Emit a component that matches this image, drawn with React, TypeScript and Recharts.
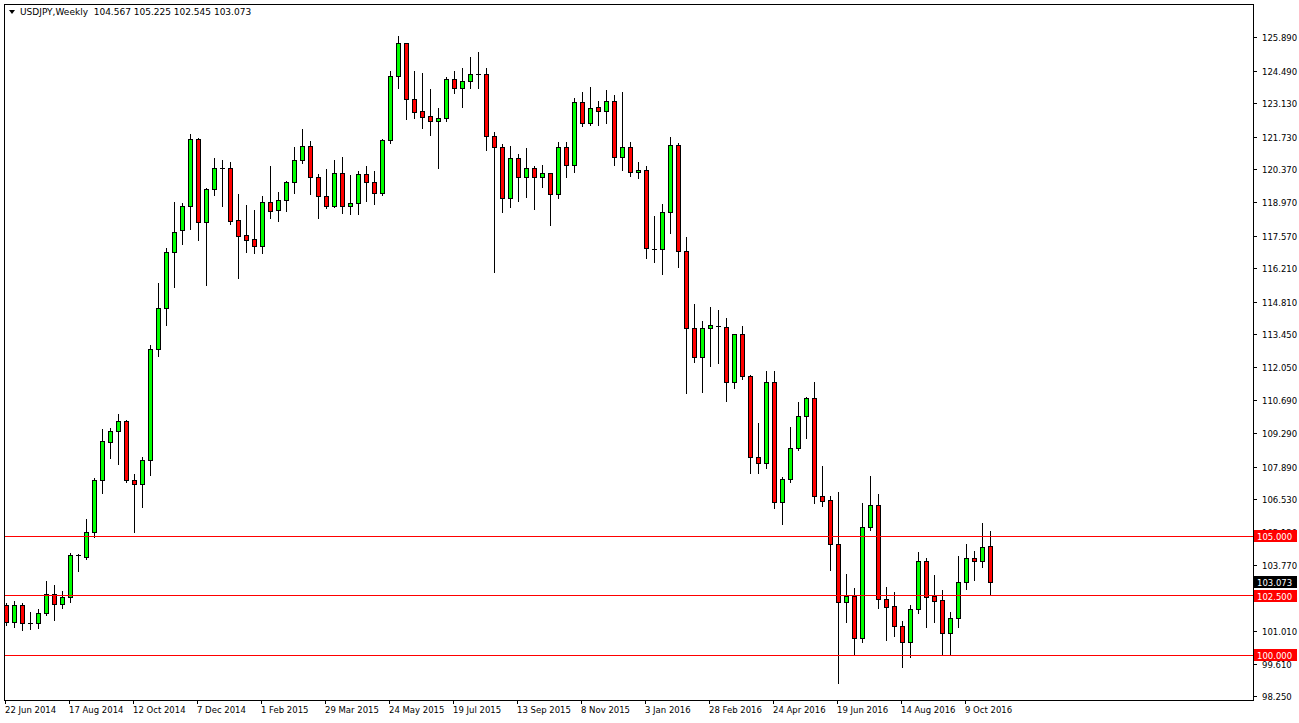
import React from 'react';
import { ComposedChart, Bar, XAxis, YAxis, ReferenceLine } from 'recharts';

// Weekly USDJPY candles, week of 22 Jun 2014 through week of 30 Oct 2016
const opens = [
  102.10, 101.40, 102.09, 101.35, 101.34, 101.76, 102.55, 102.15, 102.43, 104.17,
  104.13, 105.18, 107.35, 108.93, 109.40, 109.82, 107.34, 107.17, 108.19, 112.83,
  114.55, 116.90, 117.82, 118.86, 121.65, 118.18, 119.54, 120.42, 120.42, 118.26,
  117.61, 117.46, 117.18, 119.00, 118.66, 119.08, 119.85, 120.76, 121.36, 120.06,
  119.26, 118.86, 120.21, 118.86, 118.96, 120.17, 119.84, 119.38, 121.61, 124.30,
  125.67, 123.32, 122.82, 122.62, 122.42, 122.52, 124.17, 123.78, 124.09, 124.39,
  124.39, 121.78, 121.31, 119.17, 120.84, 120.05, 120.42, 120.05, 120.21, 119.33,
  121.33, 120.55, 123.22, 122.31, 122.98, 122.84, 123.23, 120.91, 121.31, 120.26,
  120.35, 117.04, 117.03, 118.58, 121.40, 116.97, 113.71, 112.52, 113.71, 113.82,
  113.78, 111.45, 113.46, 111.71, 108.30, 108.05, 111.45, 106.44, 107.38, 108.68,
  110.03, 110.78, 106.68, 106.50, 104.65, 102.22, 102.48, 100.71, 105.39, 106.30,
  102.34, 102.06, 101.24, 100.54, 101.92, 103.95, 102.48, 102.31, 100.92, 101.55,
  103.06, 104.06, 103.95, 104.567,
];
const highs = [
  102.20, 102.27, 102.20, 101.80, 101.92, 103.11, 102.94, 102.70, 104.27, 104.25,
  105.71, 107.43, 109.48, 109.52, 110.10, 109.85, 107.59, 108.33, 113.01, 115.62,
  117.07, 119.00, 118.96, 121.85, 121.70, 119.61, 120.84, 120.77, 120.68, 119.35,
  118.88, 118.67, 119.26, 120.53, 119.44, 119.90, 121.30, 122.06, 121.57, 120.18,
  120.38, 120.77, 120.89, 120.14, 120.32, 120.52, 120.31, 121.65, 124.52, 125.97,
  125.70, 124.51, 124.42, 123.75, 122.94, 124.27, 124.51, 124.64, 125.09, 125.32,
  124.64, 121.93, 121.44, 121.36, 121.02, 121.26, 120.52, 120.56, 120.24, 121.54,
  121.54, 123.36, 123.64, 123.82, 123.26, 123.71, 123.50, 123.64, 121.51, 120.70,
  120.52, 118.42, 118.93, 121.72, 121.47, 117.55, 114.75, 114.02, 114.62, 114.48,
  114.16, 113.47, 113.82, 111.75, 109.75, 111.92, 111.92, 107.49, 109.58, 110.63,
  110.84, 111.47, 107.95, 106.69, 106.83, 103.40, 102.83, 106.37, 107.53, 106.76,
  102.87, 102.64, 101.45, 102.10, 104.34, 104.09, 103.36, 102.73, 101.82, 104.16,
  104.65, 104.37, 105.53, 105.225,
];
const lows = [
  101.27, 101.20, 101.06, 101.09, 101.15, 101.70, 101.50, 101.99, 102.24, 103.54,
  104.05, 104.97, 106.79, 108.26, 108.01, 107.25, 105.18, 106.23, 107.56, 112.56,
  113.85, 115.44, 117.24, 117.87, 117.42, 115.53, 119.30, 118.84, 118.09, 115.83,
  116.93, 116.88, 116.88, 118.34, 118.23, 118.65, 119.40, 120.63, 119.33, 118.33,
  118.75, 118.81, 118.54, 118.49, 118.49, 119.06, 118.91, 119.30, 121.47, 123.78,
  122.48, 122.52, 122.13, 121.82, 120.42, 122.42, 123.60, 123.01, 123.81, 123.81,
  121.19, 116.09, 118.60, 118.81, 119.06, 119.23, 118.70, 119.63, 118.05, 119.17,
  120.05, 120.28, 122.21, 122.24, 122.24, 122.31, 120.56, 120.35, 120.10, 120.03,
  116.67, 116.51, 115.98, 117.70, 116.30, 110.98, 112.30, 111.05, 112.14, 112.24,
  110.66, 111.22, 111.59, 107.65, 107.63, 107.84, 106.19, 105.49, 107.28, 108.61,
  109.12, 106.37, 106.26, 103.57, 98.82, 101.38, 100.04, 100.54, 105.25, 101.97,
  100.64, 100.82, 99.52, 99.94, 101.76, 101.19, 101.38, 100.05, 100.05, 101.19,
  102.80, 103.15, 103.71, 102.545,
];
const closes = [
  101.40, 102.10, 101.34, 101.37, 101.76, 102.55, 102.15, 102.43, 104.19, 104.20,
  105.18, 107.35, 108.98, 109.40, 109.82, 107.34, 107.17, 108.19, 112.83, 114.55,
  116.90, 117.76, 118.86, 121.65, 118.18, 119.56, 120.42, 120.44, 118.23, 117.60,
  117.43, 117.18, 119.00, 118.65, 119.08, 119.85, 120.76, 121.36, 120.05, 119.25,
  118.86, 120.21, 118.86, 118.97, 120.17, 119.84, 119.38, 121.61, 124.30, 125.67,
  123.32, 122.80, 122.59, 122.42, 122.52, 124.17, 123.78, 124.09, 124.37, 124.40,
  121.78, 121.31, 119.17, 120.84, 120.05, 120.42, 120.05, 120.21, 119.33, 121.33,
  120.55, 123.22, 122.31, 122.94, 122.84, 123.23, 120.91, 121.31, 120.26, 120.35,
  117.07, 117.05, 118.58, 121.40, 116.97, 113.71, 112.52, 113.71, 113.85, 113.83,
  111.45, 113.46, 111.71, 108.30, 108.05, 111.45, 106.44, 107.38, 108.68, 110.03,
  110.78, 106.68, 106.48, 104.65, 102.22, 102.48, 100.71, 105.39, 106.30, 102.34,
  102.03, 101.24, 100.54, 101.92, 103.95, 102.45, 102.28, 100.92, 101.55, 103.06,
  104.06, 103.95, 104.56, 103.073,
];

const dateLabels = [
  '22 Jun 2014', '17 Aug 2014', '12 Oct 2014', '7 Dec 2014', '1 Feb 2015',
  '29 Mar 2015', '24 May 2015', '19 Jul 2015', '13 Sep 2015', '8 Nov 2015',
  '3 Jan 2016', '28 Feb 2016', '24 Apr 2016', '19 Jun 2016', '14 Aug 2016', '9 Oct 2016',
];
const weeksPerLabel = 8;
const priceTicks = [
  125.89, 124.49, 123.13, 121.73, 120.37, 118.97, 117.57, 116.21, 114.81, 113.45,
  112.05, 110.69, 109.29, 107.89, 106.53, 105.13, 103.77, 102.37, 101.01, 99.61, 98.25,
];
const levelLines = [105, 102.5, 100];
const lastPrice = 103.073;
const titleText = 'USDJPY,Weekly  104.567 105.225 102.545 103.073';
const totalSlots = 156;
const yDomain: [number, number] = [98.124, 127.316];

const data = Array.from({ length: totalSlots }, (_, i) =>
  i < opens.length
    ? { i, o: opens[i], h: highs[i], l: lows[i], c: closes[i] }
    : { i }
);
const xTicks = dateLabels.map((_, j) => j * weeksPerLabel);
// price tags are drawn last so they sit above the regular scale labels
const yTicks = [...priceTicks, lastPrice, ...levelLines];

const FONT = "Tahoma, 'DejaVu Sans', sans-serif";
const FRAME = { left: 4, top: 4, right: 1253, bottom: 700 };

const snap = (v: number) => Math.round(v - 0.5) + 0.5;

const Candle = (props: any) => {
  const { x, y, width, height, payload } = props;
  if (!payload || payload.o == null || x == null || y == null) return null;
  const { o, h, l, c } = payload;
  const top = Math.min(y, y + height);
  const bottom = Math.max(y, y + height);
  const span = h - l;
  const yOf = (v: number) => (span > 0 ? top + ((h - v) / span) * (bottom - top) : top);
  const cx = snap(x + width / 2);
  const yH = Math.round(yOf(h));
  const yL = Math.round(yOf(l));
  const yO = Math.round(yOf(o));
  const yC = Math.round(yOf(c));
  const bTop = Math.min(yO, yC);
  const bBot = Math.max(yO, yC);
  const up = c >= o;
  return (
    <g>
      <line x1={cx} x2={cx} y1={yH} y2={yL + 1} stroke="#000" strokeWidth={1} shapeRendering="crispEdges" />
      {bBot - bTop < 2 ? (
        <line x1={cx - 2.5} x2={cx + 2.5} y1={bTop + 0.5} y2={bTop + 0.5} stroke="#000" strokeWidth={1} shapeRendering="crispEdges" />
      ) : (
        <rect
          x={cx - 2}
          y={bTop + 0.5}
          width={4}
          height={bBot - bTop}
          fill={up ? '#00ff00' : '#ff0000'}
          stroke="#000"
          strokeWidth={1}
          shapeRendering="crispEdges"
        />
      )}
    </g>
  );
};

const PriceTick = (props: any) => {
  const { y, payload } = props;
  const v = Number(payload.value);
  const isLevel = levelLines.includes(v);
  const isLast = v === lastPrice;
  if (isLevel || isLast) {
    const yy = Math.round(y);
    return (
      <g>
        <rect x={FRAME.right} y={yy - 6} width={44} height={12} fill={isLast ? '#000000' : '#ff0000'} />
        <text x={FRAME.right + 4} y={yy} dy={3.5} fontSize={8.5} fontFamily={FONT} fill="#fff">
          {v.toFixed(3)}
        </text>
      </g>
    );
  }
  return (
    <g>
      <line x1={FRAME.right} x2={FRAME.right + 4} y1={snap(y)} y2={snap(y)} stroke="#000" shapeRendering="crispEdges" />
      <text x={FRAME.right + 9} y={y} dy={3.5} fontSize={8.5} fontFamily={FONT} fill="#000">
        {v.toFixed(3)}
      </text>
    </g>
  );
};

const DateTick = (props: any) => {
  const { x, payload } = props;
  const label = dateLabels[Math.round(Number(payload.value) / weeksPerLabel)];
  return (
    <g>
      <line x1={snap(x)} x2={snap(x)} y1={FRAME.bottom} y2={FRAME.bottom + 4} stroke="#000" shapeRendering="crispEdges" />
      <text x={x - 0.5} y={FRAME.bottom + 13} fontSize={8.5} fontFamily={FONT} fill="#000" textAnchor="start">
        {label}
      </text>
    </g>
  );
};

const LevelLine = (props: any) => {
  const { y1, y2 } = props;
  return (
    <line x1={FRAME.left} x2={FRAME.right} y1={snap(y1)} y2={snap(y2)} stroke="#ff0000" strokeWidth={1} shapeRendering="crispEdges" />
  );
};

export default function App() {
  return (
    <div style={{ position: 'absolute', left: 0, top: 0, width: 1299, height: 723, background: '#fff', overflow: 'hidden' }}>
      <ComposedChart
        width={1299}
        height={723}
        data={data}
        margin={{ top: 4, right: 0, bottom: 0, left: 1.5 }}
      >
        <XAxis
          dataKey="i"
          type="category"
          ticks={xTicks}
          interval={0}
          height={23}
          axisLine={false}
          tickLine={false}
          tick={<DateTick />}
        />
        <YAxis
          orientation="right"
          type="number"
          domain={yDomain}
          allowDataOverflow
          ticks={yTicks}
          interval={0}
          width={49.5}
          axisLine={false}
          tickLine={false}
          tick={<PriceTick />}
        />
        <Bar
          dataKey={(d: any) => (d.o == null ? null : [d.l, d.h])}
          barSize={5}
          isAnimationActive={false}
          shape={<Candle />}
        />
        {levelLines.map((lv) => (
          <ReferenceLine key={lv} y={lv} stroke="#ff0000" shape={<LevelLine />} />
        ))}
      </ComposedChart>
      <div
        style={{
          position: 'absolute',
          left: FRAME.left,
          top: FRAME.top,
          width: FRAME.right - FRAME.left - 1,
          height: FRAME.bottom - FRAME.top - 1,
          border: '1px solid #000',
          pointerEvents: 'none',
        }}
      />
      <div
        style={{
          position: 'absolute',
          left: 8,
          top: 6,
          fontFamily: FONT,
          fontSize: 9,
          color: '#000',
          whiteSpace: 'pre',
          lineHeight: '12px',
          display: 'flex',
          alignItems: 'center',
        }}
      >
        <svg width={8} height={12} style={{ marginRight: 4 }}>
          <polygon points="1,4 7,4 4,8" fill="#000" />
        </svg>
        <span>{titleText}</span>
      </div>
    </div>
  );
}
